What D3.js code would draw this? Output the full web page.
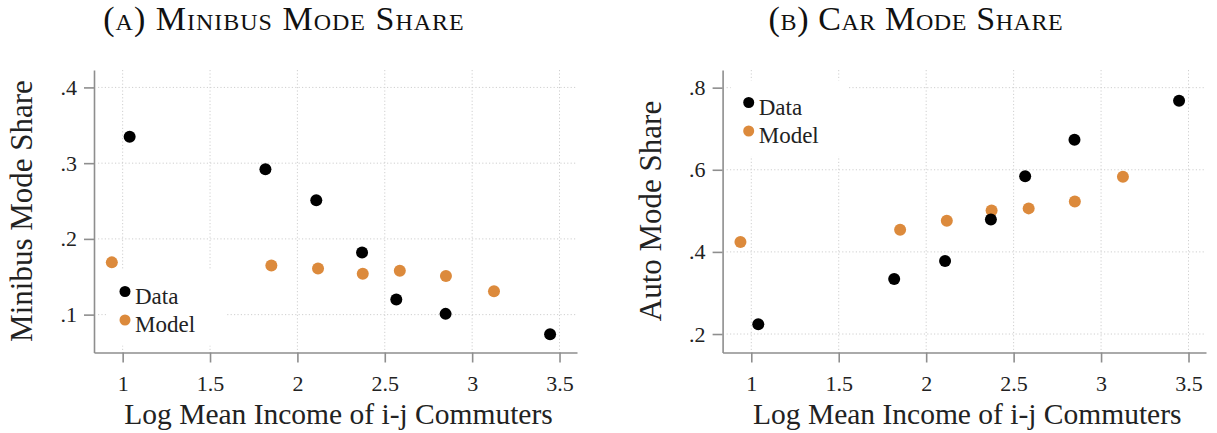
<!DOCTYPE html>
<html>
<head>
<meta charset="utf-8">
<script src="https://cdn.jsdelivr.net/npm/d3@7"></script>
<style>
  body { margin: 0; background: #fff; }
  svg { display: block; font-family: "Liberation Serif", "DejaVu Serif", serif; }
  .grid line { stroke: #cfcfcf; stroke-width: 1; stroke-dasharray: 1.2 2.2; }
  .axis path, .axis line { stroke: #8e8e8e; stroke-width: 1.6; }
  .axis text { font-size: 22px; fill: #222; font-family: "Liberation Serif", "DejaVu Serif", serif; }
</style>
</head>
<body>
<svg id="chart" width="1217" height="433"></svg>
<script>
// log mean income (x) for the seven bins
const incomeData  = [1.040, 1.817, 2.108, 2.370, 2.566, 2.848, 3.446];
const incomeModel = [0.938, 1.851, 2.118, 2.374, 2.586, 2.850, 3.125];

// mode shares
const minibusData  = [0.335, 0.292, 0.251, 0.182, 0.120, 0.101, 0.074];
const minibusModel = [0.169, 0.165, 0.161, 0.154, 0.158, 0.151, 0.131];
const autoData  = [0.224, 0.334, 0.378, 0.479, 0.584, 0.673, 0.768];
const autoModel = [0.424, 0.454, 0.476, 0.501, 0.506, 0.523, 0.583];

const xTicks = [1, 1.5, 2, 2.5, 3, 3.5];
const minibusTicks = [0.1, 0.2, 0.3, 0.4];
const autoTicks = [0.2, 0.4, 0.6, 0.8];
const legendLabels = ["Data", "Model"];
const colData = "#000000";
const colModel = "#dc8a3c";

const svg = d3.select("#chart");
const fmtY = d => String(+d.toFixed(2)).replace(/^0/, "");

function drawPanel(p) {
  const x = d3.scaleLinear().domain([0.836, 3.6]).range([p.left, p.right]);
  const y = d3.scaleLinear().domain(p.yDomain).range([352.5, 70]);
  const g = svg.append("g");

  // title (small caps)
  g.append("text")
    .attr("x", p.titleX).attr("y", 30)
    .attr("text-anchor", "middle")
    .style("font-size", "34px")
    .style("letter-spacing", p.titleSpacing)
    .style("font-variant", "small-caps")
    .style("fill", "#111")
    .text(p.title);

  // gridlines
  const grid = g.append("g").attr("class", "grid");
  grid.selectAll(".h").data(p.yTicks).join("line")
    .attr("x1", p.left + 4).attr("x2", p.right)
    .attr("y1", d => y(d)).attr("y2", d => y(d));
  grid.selectAll(".v").data(xTicks).join("line")
    .attr("x1", d => x(d)).attr("x2", d => x(d))
    .attr("y1", 70).attr("y2", 350);

  // legend backdrop hides the grid behind it
  g.append("rect")
    .attr("x", p.legend.x - 18).attr("y", p.legend.y - 22)
    .attr("width", 118).attr("height", 76)
    .attr("fill", "#fff");

  // axes
  const xAxis = d3.axisBottom(x).tickValues(xTicks).tickSize(10).tickSizeOuter(0)
    .tickPadding(13).tickFormat(d3.format(""));
  g.append("g").attr("class", "axis").attr("transform", "translate(0,352.5)")
    .call(xAxis).attr("font-family", null).attr("font-size", null);

  const yAxis = d3.axisLeft(y).tickValues(p.yTicks).tickSize(10).tickSizeOuter(0)
    .tickPadding(7).tickFormat(fmtY);
  g.append("g").attr("class", "axis").attr("transform", `translate(${p.left},0)`)
    .call(yAxis).attr("font-family", null).attr("font-size", null);

  // axis titles
  g.append("text")
    .attr("x", (p.left + p.right) / 2 + 3).attr("y", 424)
    .attr("text-anchor", "middle")
    .style("font-size", "29.5px").style("fill", "#222")
    .text("Log Mean Income of i-j Commuters");

  g.append("text")
    .attr("transform", `translate(${p.yTitleX},211) rotate(-90)`)
    .attr("text-anchor", "middle")
    .style("font-size", "31px").style("fill", "#222")
    .text(p.yTitle);

  // points
  g.selectAll(".m").data(incomeModel).join("circle")
    .attr("cx", d => x(d)).attr("cy", (d, i) => y(p.model[i]))
    .attr("r", 6).attr("fill", colModel);
  g.selectAll(".d").data(incomeData).join("circle")
    .attr("cx", d => x(d)).attr("cy", (d, i) => y(p.data[i]))
    .attr("r", 6).attr("fill", colData);

  // legend
  const lg = g.append("g").attr("transform", `translate(${p.legend.x},${p.legend.y})`);
  lg.selectAll("circle").data(legendLabels).join("circle")
    .attr("cx", 0).attr("cy", (d, i) => i * 28.5)
    .attr("r", 5.5).attr("fill", (d, i) => i === 0 ? colData : colModel);
  lg.selectAll("text").data(legendLabels).join("text")
    .attr("x", 10).attr("y", (d, i) => 12 + i * 28.5)
    .style("font-size", "23px").style("fill", "#222")
    .text(d => d);
}

drawPanel({
  title: "(a) Minibus Mode Share", titleX: 284, titleSpacing: "1px",
  left: 94, right: 577, yDomain: [0.05, 0.423], yTicks: minibusTicks,
  yTitle: "Minibus Mode Share", yTitleX: 32,
  data: minibusData, model: minibusModel,
  legend: { x: 125, y: 291.5 }
});

drawPanel({
  title: "(b) Car Mode Share", titleX: 916, titleSpacing: "0.6px",
  left: 722.6, right: 1206, yDomain: [0.155, 0.843], yTicks: autoTicks,
  yTitle: "Auto Mode Share", yTitleX: 661,
  data: autoData, model: autoModel,
  legend: { x: 748.7, y: 102.5 }
});
</script>
</body>
</html>
